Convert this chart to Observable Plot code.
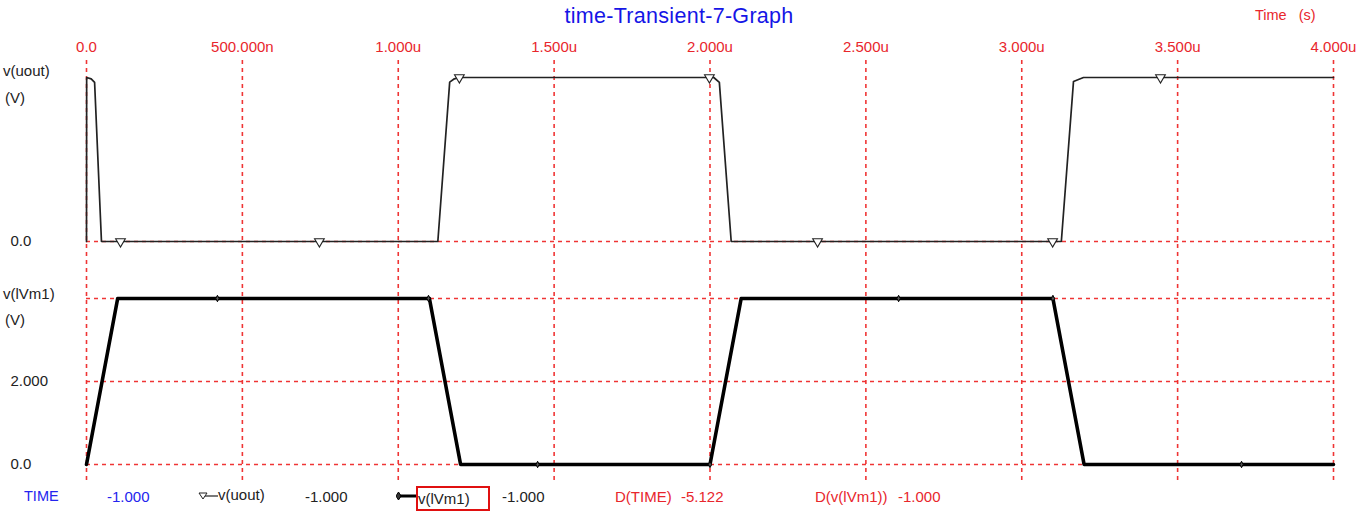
<!DOCTYPE html>
<html><head><meta charset="utf-8">
<script src="https://cdn.jsdelivr.net/npm/d3@7"></script>
<script src="https://cdn.jsdelivr.net/npm/@observablehq/plot@0.6"></script>
<style>
body{margin:0;background:#fff;}
#wrap{position:relative;width:1356px;height:516px;overflow:hidden;font-family:"Liberation Sans",Arial,sans-serif;}
.t{position:absolute;white-space:nowrap;line-height:1;font-size:15px;}
.p{position:absolute;left:0;}
</style></head><body><div id="wrap"></div>
<script>
// ---- data (time in microseconds) ----
const timeTicks = [0, 0.5, 1, 1.5, 2, 2.5, 3, 3.5, 4];
const timeTickLabels = ["0.0", "500.000n", "1.000u", "1.500u", "2.000u", "2.500u", "3.000u", "3.500u", "4.000u"];

const uoutT = [0, 0.0005, 0.015, 0.026, 0.048, 1.127, 1.165, 1.180, 1.196, 2.012, 2.030, 2.068, 3.127, 3.166, 3.198, 4.0];
const uoutV = [0, 5, 4.96, 4.85, 0, 0, 4.86, 4.96, 5, 5, 4.85, 0, 0, 4.88, 5, 5];
const uoutMarkT = [0.109, 0.747, 1.196, 1.998, 2.345, 3.099, 3.445];
const uoutMarkV = [0, 0, 5, 5, 0, 0, 5];
const uoutYTicks = [0];
const uoutYLabels = ["0.0"];

const lvmT = [0, 0.1, 1.1, 1.2, 2.0, 2.1, 3.1, 3.2, 4.0];
const lvmV = [0, 4, 4, 0, 0, 4, 4, 0, 0];
const lvmMarkT = [0.42, 1.097, 1.447, 2.0, 2.605, 3.1, 3.705];
const lvmMarkV = [4, 4, 0, 0, 4, 4, 0];
const lvmYTicks = [0, 2];
const lvmYLabels = ["0.0", "2.000"];
const lvmGrid = [0, 2, 4];

const legendNames = ["TIME", "v(uout)", "v(lVm1)", "D(TIME)", "D(v(lVm1))"];
const legendValues = ["-1.000", "-1.000", "-1.000", "-5.122", "-1.000"];

// ---- build ----
const RED = "#e8262c";
const INK = "#222";
const FONT = "'Liberation Sans', Arial, sans-serif";
const wrap = document.getElementById("wrap");
const uout = uoutT.map((t, i) => ({t, v: uoutV[i]}));
const uoutMarks = uoutMarkT.map((t, i) => ({t, v: uoutMarkV[i]}));
const lvm = lvmT.map((t, i) => ({t, v: lvmV[i]}));
const lvmMarks = lvmMarkT.map((t, i) => ({t, v: lvmMarkV[i]}));
const tickLabel = new Map(timeTicks.map((d, i) => [d, timeTickLabels[i]]));

const tallDiamond = {
  draw(ctx, size) {
    const r = Math.sqrt(size) / 2;
    ctx.moveTo(0, -r * 1.4); ctx.lineTo(r * 0.7, 0); ctx.lineTo(0, r * 1.4); ctx.lineTo(-r * 0.7, 0); ctx.closePath();
  }
};

function add(html, cls, style) {
  const d = document.createElement("div");
  d.className = cls; d.innerHTML = html; Object.assign(d.style, style); wrap.appendChild(d); return d;
}

const grid = {stroke: "#ee2a2a", strokeWidth: 1.6, strokeDasharray: "4,4", strokeOpacity: 0.95};

// title and top-right label
add("time-Transient-7-Graph", "t", {left: "0px", width: "1358px", textAlign: "center", top: "6px", fontSize: "21.5px", color: "#1515e6", letterSpacing: "0.3px"});
add("Time&nbsp;&nbsp;&nbsp;(s)", "t", {left: "1255px", top: "8px", fontSize: "14.5px", color: RED});

// top panel
const p1 = Plot.plot({
  width: 1356, height: 230,
  marginLeft: 86, marginRight: 23, marginTop: 47, marginBottom: 19,
  x: {domain: [0, 4], axis: null},
  y: {domain: [0, 5], axis: null},
  style: {fontFamily: FONT, overflow: "visible", background: "transparent"},
  marks: [
    Plot.ruleX(timeTicks, {x: d => d, ...grid, insetTop: -17, insetBottom: -19}),
    Plot.ruleY(uoutYTicks, {y: d => d, ...grid}),
    Plot.text(timeTicks, {x: d => d, text: d => tickLabel.get(d), frameAnchor: "top", dy: -30, lineAnchor: "middle", fill: RED, fontSize: 15}),
    Plot.line(uout, {x: "t", y: "v", stroke: INK, strokeWidth: 1.7}),
    Plot.dot(uoutMarks, {x: "t", y: "v", symbol: "triangle", rotate: 180, r: 3.6, stroke: INK, strokeWidth: 1.1, fill: "white"}),
    Plot.text(uoutYTicks, {y: d => d, text: d => uoutYLabels[uoutYTicks.indexOf(d)], frameAnchor: "left", textAnchor: "start", dx: -76, lineAnchor: "middle", fontSize: 15, fill: INK})
  ]
});
p1.classList.add("p"); p1.style.top = "30px";
wrap.appendChild(p1);

// bottom panel
const p2 = Plot.plot({
  width: 1356, height: 222,
  marginLeft: 86, marginRight: 23, marginTop: 38, marginBottom: 18,
  x: {domain: [0, 4], axis: null},
  y: {domain: [0, 4], axis: null},
  style: {fontFamily: FONT, overflow: "visible", background: "transparent"},
  marks: [
    Plot.ruleX(timeTicks, {x: d => d, ...grid, insetTop: -38, insetBottom: -18}),
    Plot.ruleY(lvmGrid, {y: d => d, ...grid}),
    Plot.line(lvm, {x: "t", y: "v", stroke: "#000", strokeWidth: 3.6}),
    Plot.dot(lvmMarks, {x: "t", y: "v", symbol: tallDiamond, r: 2.6, stroke: "#000", strokeWidth: 1, fill: "#555"}),
    Plot.text(lvmYTicks, {y: d => d, text: d => lvmYLabels[lvmYTicks.indexOf(d)], frameAnchor: "left", textAnchor: "start", dx: -76, lineAnchor: "middle", fontSize: 15, fill: INK})
  ]
});
p2.classList.add("p"); p2.style.top = "260px";
wrap.appendChild(p2);

// axis titles on the left
add("v(uout)", "t", {left: "3px", top: "63px", color: INK});
add("(V)", "t", {left: "5px", top: "90px", color: INK});
add("v(lVm1)", "t", {left: "3px", top: "286px", color: INK});
add("(V)", "t", {left: "5px", top: "312px", color: INK});

// bottom legend row
const ly = "489px";
add(legendNames[0], "t", {left: "24px", top: ly, color: "#2424ee", fontSize: "14.5px"});
add(legendValues[0], "t", {left: "107px", top: ly, color: "#2424ee"});
add('<svg width="20" height="12" style="vertical-align:middle"><line x1="6" y1="6" x2="20" y2="6" stroke="#222" stroke-width="1.2"/><path d="M1,3 L9,3 L5,9 Z" fill="white" stroke="#222" stroke-width="1"/></svg>' + legendNames[1], "t", {left: "198px", top: "487px", color: INK});
add(legendValues[1], "t", {left: "305px", top: ly, color: INK});
add('<svg width="22" height="12" style="vertical-align:middle"><line x1="2" y1="6" x2="22" y2="6" stroke="#000" stroke-width="3"/><path d="M2.5,2 L5,6 L2.5,10 L0,6 Z" fill="#333" stroke="#000"/></svg>', "t", {left: "396px", top: "487px"});
add(legendNames[2], "t", {left: "416px", top: "486px", width: "70px", height: "21px", lineHeight: "21px", border: "2px solid #e01010", color: INK, paddingLeft: "0px"});
add(legendValues[2], "t", {left: "502px", top: ly, color: INK});
add(legendNames[3], "t", {left: "615px", top: ly, color: RED});
add(legendValues[3], "t", {left: "681px", top: ly, color: RED});
add(legendNames[4], "t", {left: "815px", top: ly, color: RED});
add(legendValues[4], "t", {left: "898px", top: ly, color: RED});
</script></body></html>
